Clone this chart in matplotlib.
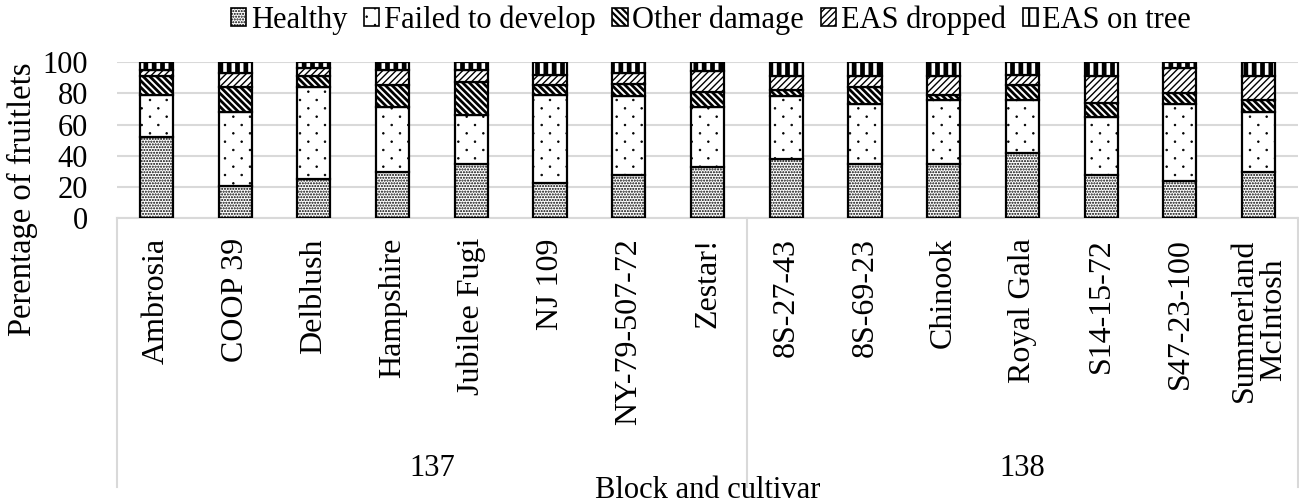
import matplotlib
matplotlib.use("Agg")
import matplotlib.pyplot as plt
import numpy as np
from matplotlib.transforms import blended_transform_factory
from matplotlib.patches import Patch
from matplotlib.lines import Line2D
from matplotlib.path import Path
import matplotlib.hatch as mhatch

plt.rcParams['font.family'] = ['Liberation Serif', 'DejaVu Serif']

cultivars = ["Ambrosia", "COOP 39", "Delblush", "Hampshire", "Jubilee Fugi", "NJ 109",
             "NY-79-507-72", "Zestar!", "8S-27-43", "8S-69-23", "Chinook", "Royal Gala",
             "S14-15-72", "S47-23-100", "Summerland\nMcIntosh"]
blocks = ["137", "138"]
block_sizes = [8, 7]

healthy = [52, 21, 25, 30, 35, 23, 28, 33, 38, 35, 35, 42, 28, 24, 30]
failed = [27, 47, 59, 41, 31, 56, 50, 38, 40, 38, 41, 34, 37, 49, 38]
other = [12, 16, 7, 14, 21, 6, 8, 10, 4, 11, 3, 9, 9, 7.5, 8]
dropped = [4, 9, 5, 10, 8, 7, 7, 13, 9, 7, 12, 7, 17, 15.5, 15]
on_tree = [5, 7, 4, 5, 5, 8, 7, 6, 9, 9, 9, 8, 9, 4, 9]

series_names = ["Healthy", "Failed to develop", "Other damage", "EAS dropped", "EAS on tree"]
series = [healthy, failed, other, dropped, on_tree]


# Custom sparse staggered dot hatch (triggered by 'O'), replacing large circles
class SparseDots(mhatch.HatchPatternBase):
    def __init__(self, hatch, density):
        circ = Path.unit_circle()
        self.cv = circ.vertices
        self.cc = circ.codes
        self.pts = []
        if hatch.count('O') > 0:
            ncol, nrow = 6, 12
            for r in range(nrow + 1):
                yy = r / nrow
                if r % 2 == 0:
                    xs = np.linspace(0, 1, ncol + 1)
                else:
                    xs = np.linspace(0.5 / ncol, 1 - 0.5 / ncol, ncol)
                for xx in xs:
                    self.pts.append((xx, yy))
        self.num_vertices = len(self.pts) * len(self.cv)

    def set_vertices_and_codes(self, vertices, codes):
        sv = self.cv * 0.008
        np.concatenate([sv + np.array(p) for p in self.pts], out=vertices)
        np.concatenate([self.cc for _ in self.pts], out=codes)


failed_hatch = "."
try:
    mhatch._hatch_types = [t for t in mhatch._hatch_types if t is not mhatch.LargeCircles] + [SparseDots]
    failed_hatch = "O"
except Exception:
    pass

BS = chr(92)
hatches = ["......", failed_hatch, BS * 5, "/" * 5, "||"]
hatch_lws = [1.0, 0.6, 2.0, 1.0, 3.4]


def with_hatch_lw(artist, lw):
    orig = artist.draw

    def draw(renderer, *args, **kwargs):
        with plt.rc_context({'hatch.linewidth': lw, 'hatch.color': 'black'}):
            if hasattr(artist, 'set_hatch_linewidth'):
                artist.set_hatch_linewidth(lw)
            return orig(renderer, *args, **kwargs)
    artist.draw = draw


W, H = 1299, 503
fig = plt.figure(figsize=(W / 100, H / 100), dpi=100)
ax_left, ax_right, ax_top, ax_bot = 117, 1298, 62, 218.5
ax = fig.add_axes([ax_left / W, 1 - ax_bot / H, (ax_right - ax_left) / W, (ax_bot - ax_top) / H])

x = np.arange(len(cultivars))
bottom = np.zeros(len(cultivars))
handles = []
for name, vals, h, hlw in zip(series_names, series, hatches, hatch_lws):
    vals = np.array(vals, dtype=float)
    bars = ax.bar(x, vals, 0.42, bottom=bottom, color='white', edgecolor='black',
                  linewidth=1.6, hatch=h, zorder=3)
    for b in bars:
        with_hatch_lw(b, hlw)
    handles.append(Patch(facecolor='white', edgecolor='black', hatch=h, linewidth=1.2))
    bottom += vals

ax.set_xlim(-0.5, len(cultivars) - 0.5)
ax.set_ylim(0, 100)
ax.set_yticks(np.arange(0, 101, 20))
ax.tick_params(axis='y', length=0, labelsize=22, pad=21)
ax.set_xticks([])
ax.grid(axis='y', color='#d9d9d9', linewidth=1.5, zorder=0)
for s in ['left', 'right', 'top']:
    ax.spines[s].set_visible(False)
ax.spines['bottom'].set_color('#d9d9d9')
ax.spines['bottom'].set_linewidth(1.5)

tr = blended_transform_factory(ax.transData, fig.transFigure)
ybox = 1 - 487 / H
ytop = 1 - ax_bot / H
seps = [-0.5]
acc = -0.5
for n in block_sizes:
    acc += n
    seps.append(acc)
for sx in seps:
    fig.add_artist(Line2D([sx, sx], [ybox, ytop], transform=tr, color='#d9d9d9', linewidth=1.5))

for i, name in enumerate(cultivars):
    fig.text(i, 1 - 238 / H, name, transform=tr, rotation=90, va='top', ha='center',
             multialignment='center', fontsize=23, linespacing=1.0)

start = -0.5
for blk, n in zip(blocks, block_sizes):
    fig.text(start + n / 2, 1 - 468 / H, blk, transform=tr, ha='center', va='center', fontsize=22)
    start += n

fig.text((ax_left + ax_right) / 2 / W, 1 - 490 / H, "Block and cultivar", ha='center', va='center', fontsize=22)
fig.text(22 / W, 1 - 199 / H, "Perentage of fruitlets", rotation=90, ha='center', va='center', fontsize=23.5)

leg = fig.legend(handles, series_names, loc='center', bbox_to_anchor=(711 / W, 1 - 20 / H), ncol=5,
                 frameon=False, fontsize=22, handlelength=0.5, handleheight=0.5, handletextpad=0.15,
                 columnspacing=0.55, borderpad=0)
for p, hlw in zip(leg.get_patches(), hatch_lws):
    with_hatch_lw(p, min(hlw, 1.6))

fig.savefig("out.png", dpi=100)
